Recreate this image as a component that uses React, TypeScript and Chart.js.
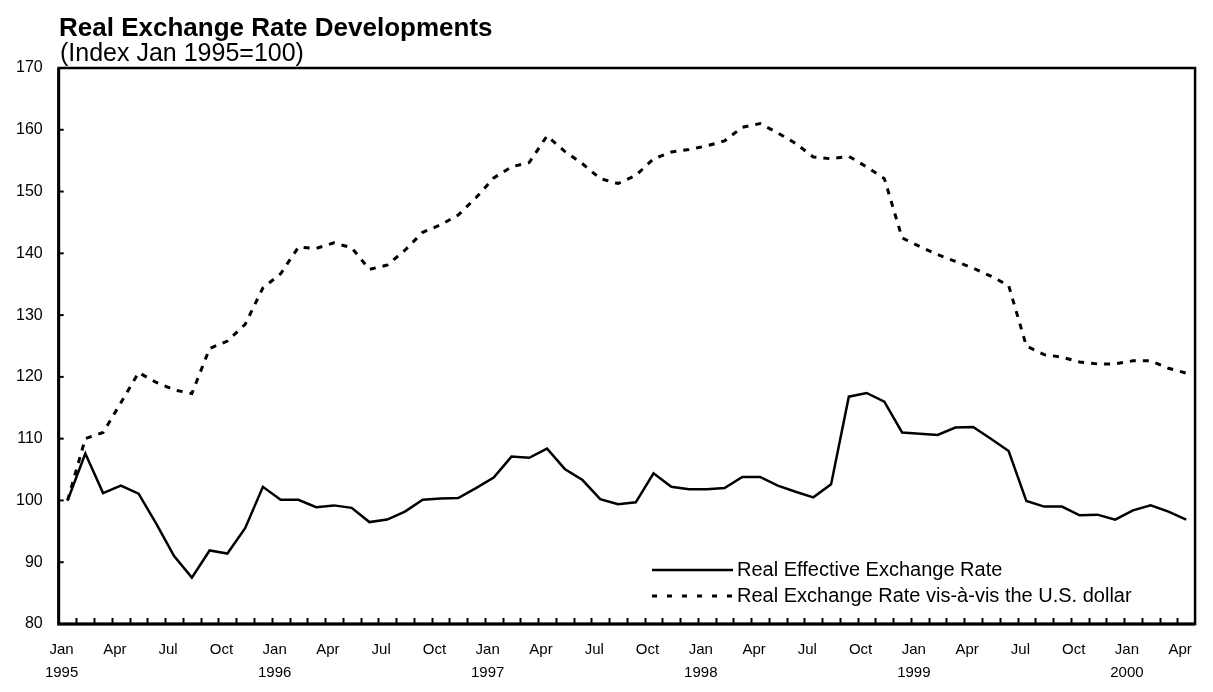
import React, { useEffect, useRef } from "react";
import { Chart, registerables } from "chart.js";

Chart.register(...registerables);

// ---- data ----
const years = [1995, 1996, 1997, 1998, 1999, 2000];
const monthNames = ["Jan", "Feb", "Mar", "Apr", "May", "Jun", "Jul", "Aug", "Sep", "Oct", "Nov", "Dec"];
const categories: string[] = years.flatMap((y) => monthNames.map((m) => `${m} ${y}`)).slice(0, 64);
const labeledMonths = ["Jan", "Apr", "Jul", "Oct"];

const realEffective = [
  100, 107.6, 101.2, 102.4, 101.1, 96.2, 91.0, 87.5, 91.9, 91.4, 95.5, 102.2,
  100.1, 100.1, 98.9, 99.2, 98.8, 96.5, 96.9, 98.2, 100.1, 100.3, 100.4, 102.0,
  103.7, 107.1, 106.9, 108.4, 105.1, 103.3, 100.2, 99.4, 99.7, 104.4, 102.2, 101.8,
  101.8, 102.0, 103.8, 103.8, 102.4, 101.4, 100.5, 102.6, 116.8, 117.4, 116.0, 111.0,
  110.8, 110.6, 111.8, 111.9, 110.0, 108.0, 99.9, 99.0, 99.0, 97.6, 97.7, 96.9,
  98.4, 99.2, 98.2, 96.9,
];

const vsUsDollar = [
  100, 110.0, 111.0, 115.8, 120.7, 119.1, 117.9, 117.3, 124.6, 125.8, 128.5, 134.4,
  136.7, 141.0, 140.8, 141.7, 140.9, 137.4, 138.1, 140.5, 143.4, 144.6, 146.2, 149.0,
  152.2, 154.0, 154.7, 159.0, 156.5, 154.5, 152.1, 151.3, 152.6, 155.3, 156.4, 156.8,
  157.4, 158.2, 160.4, 161.0, 159.5, 157.8, 155.6, 155.3, 155.7, 154.0, 152.1, 142.5,
  141.1, 139.8, 138.7, 137.6, 136.3, 134.8, 125.0, 123.6, 123.2, 122.4, 122.1, 122.1,
  122.6, 122.6, 121.4, 120.6,
];

const seriesNames = ["Real Effective Exchange Rate", "Real Exchange Rate vis-à-vis the U.S. dollar"];
const yMin = 80;
const yMax = 170;
const yStep = 10;

const FONT = "'Liberation Sans', Arial, sans-serif";

const framePlugin = {
  id: "frameAndLegend",
  afterDatasetsDraw(chart: any) {
    const { ctx, chartArea: a, scales } = chart;
    const y = scales.y;
    ctx.save();
    ctx.strokeStyle = "#000";
    // inner tick marks on x (category boundaries)
    ctx.lineWidth = 2;
    const n = categories.length;
    const step = a.width / n;
    for (let i = 1; i < n; i++) {
      const px = Math.round(a.left + i * step) + 0.5;
      ctx.beginPath();
      ctx.moveTo(px, a.bottom);
      ctx.lineTo(px, a.bottom - 6);
      ctx.stroke();
    }
    // inner tick marks on y
    y.ticks.forEach((t: any) => {
      const py = y.getPixelForValue(t.value);
      ctx.beginPath();
      ctx.moveTo(a.left, py);
      ctx.lineTo(a.left + 5, py);
      ctx.stroke();
    });
    // frame
    ctx.lineWidth = 2.5;
    ctx.strokeRect(a.left, a.top, a.width, a.height);
    ctx.lineWidth = 3;
    ctx.beginPath();
    ctx.moveTo(a.left, a.top);
    ctx.lineTo(a.left, a.bottom);
    ctx.lineTo(a.right, a.bottom);
    ctx.stroke();

    // legend
    const lx0 = 652;
    const lx1 = 733;
    const rows = [570, 596];
    chart.data.datasets.forEach((ds: any, i: number) => {
      const yy = rows[i];
      ctx.lineWidth = i === 0 ? 2.5 : 3;
      ctx.setLineDash(i === 0 ? [] : [5, 10]);
      ctx.beginPath();
      ctx.moveTo(lx0, yy);
      ctx.lineTo(lx1, yy);
      ctx.stroke();
      ctx.setLineDash([]);
      ctx.fillStyle = "#000";
      ctx.font = `20px ${FONT}`;
      ctx.textBaseline = "middle";
      ctx.textAlign = "left";
      ctx.fillText(ds.label, lx1 + 4, yy);
    });
    ctx.restore();
  },
};

export default function App() {
  const canvasRef = useRef<HTMLCanvasElement | null>(null);

  useEffect(() => {
    if (!canvasRef.current) return;
    const chart = new Chart(canvasRef.current, {
      type: "line",
      data: {
        labels: categories,
        datasets: [
          {
            label: seriesNames[0],
            data: realEffective,
            borderColor: "#000",
            borderWidth: 2.5,
            pointRadius: 0,
            tension: 0,
            fill: false,
          },
          {
            label: seriesNames[1],
            data: vsUsDollar,
            borderColor: "#000",
            borderWidth: 3,
            borderDash: [6, 7],
            pointRadius: 0,
            tension: 0,
            fill: false,
          },
        ],
      },
      options: {
        responsive: false,
        animation: false,
        layout: { padding: { left: 0, right: 17, top: 68, bottom: 11 } },
        plugins: {
          legend: { display: false },
          title: { display: false },
          tooltip: { enabled: false },
        },
        scales: {
          x: {
            type: "category",
            offset: true,
            grid: { display: true, offset: true, drawOnChartArea: false, drawTicks: false },
            border: { display: false },
            ticks: {
              autoSkip: false,
              maxRotation: 0,
              minRotation: 0,
              padding: 15,
              labelOffset: -6,
              color: "#000",
              font: { family: FONT, size: 15, lineHeight: 1.5 },
              callback: (_v: any, i: number) => {
                const [m, yr] = categories[i].split(" ");
                if (!labeledMonths.includes(m)) return "";
                return m === "Jan" ? [m, yr] : m;
              },
            },
          },
          y: {
            min: yMin,
            max: yMax,
            grid: { display: false, drawTicks: false },
            border: { display: false },
            ticks: {
              stepSize: yStep,
              padding: 16,
              color: "#000",
              font: { family: FONT, size: 16 },
            },
          },
        },
      },
      plugins: [framePlugin],
    });
    return () => chart.destroy();
  }, []);

  return (
    <div style={{ position: "absolute", left: 0, top: 0, width: 1213, height: 692, overflow: "hidden", background: "#fff" }}>
      <canvas ref={canvasRef} width={1213} height={710} style={{ position: "absolute", left: 0, top: 0 }} />
      <div
        style={{
          position: "absolute",
          left: 59,
          top: 13,
          fontFamily: FONT,
          fontWeight: "bold",
          fontSize: 26,
          lineHeight: "28px",
          color: "#000",
          whiteSpace: "nowrap",
        }}
      >
        Real Exchange Rate Developments
      </div>
      <div
        style={{
          position: "absolute",
          left: 60,
          top: 39,
          fontFamily: FONT,
          fontSize: 25,
          lineHeight: "26px",
          color: "#000",
          whiteSpace: "nowrap",
        }}
      >
        (Index Jan 1995=100)
      </div>
    </div>
  );
}
